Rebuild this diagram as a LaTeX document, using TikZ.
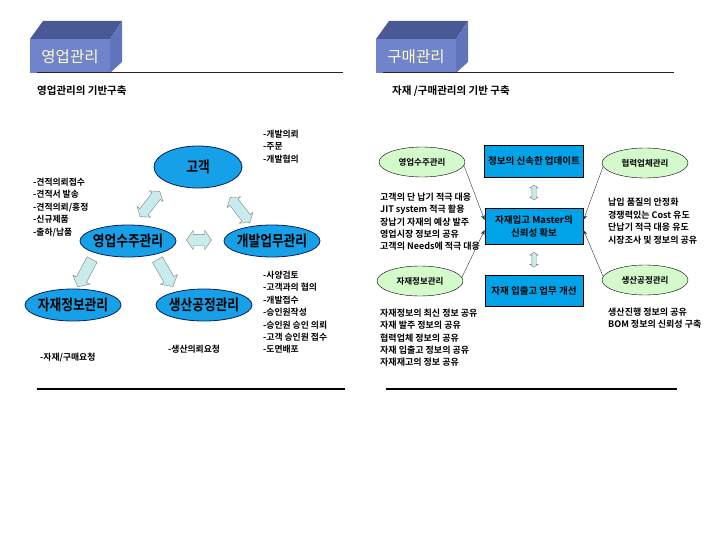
\documentclass[tikz,border=0pt]{standalone}
\usepackage{fontspec}
\setmainfont{Noto Sans CJK KR}[BoldFont={Noto Sans CJK KR Bold}]
\newfontfamily\ovalfont{Noto Sans CJK KR Bold}[FakeStretch=0.85]
\usepackage{xcolor}
\usetikzlibrary{arrows.meta,shapes.geometric,shapes.arrows,calc}

\definecolor{ovalblue}{RGB}{22,160,232}
\definecolor{ovalline}{RGB}{10,30,90}
\definecolor{ovalgreen}{RGB}{212,250,204}
\definecolor{boxblue}{RGB}{0,162,232}
\definecolor{fatfill}{RGB}{200,236,236}
\definecolor{titlefront}{RGB}{112,132,204}
\definecolor{titletop}{RGB}{74,88,150}
\definecolor{titleside}{RGB}{96,116,188}
\definecolor{titletext}{RGB}{255,255,200}

\begin{document}
\begin{tikzpicture}[x=1pt,y=-1pt,
  oval/.style={ellipse,draw=ovalline,thick,fill=ovalblue,inner xsep=-6pt,inner ysep=-1pt,
    minimum width=96pt,minimum height=32pt,font=\fontsize{15}{15}\ovalfont},
  greenoval/.style={ellipse,draw=black,fill=ovalgreen,inner xsep=-6pt,inner ysep=-2pt,
    minimum width=86pt,minimum height=30pt,font=\fontsize{8.5}{8.5}\selectfont\bfseries},
  bluebox/.style={draw=black,thick,fill=boxblue,minimum width=98pt,minimum height=32pt,
    align=center,font=\fontsize{9.5}{13}\selectfont\bfseries},
  fatdbl/.style={double arrow,draw=gray,fill=fatfill,inner sep=5pt,minimum width=17pt,
    minimum height=32pt,double arrow head extend=3.5pt,double arrow tip angle=110},
  fatone/.style={single arrow,draw=gray,fill=fatfill,inner sep=5.5pt,minimum width=19pt,
    minimum height=31pt,single arrow head extend=4pt,single arrow tip angle=100},
  thindbl/.style={double arrow,draw=gray,fill=fatfill,inner sep=2pt,minimum width=8pt,
    minimum height=15pt,double arrow head extend=2pt,double arrow tip angle=110},
  note/.style={anchor=north west,inner sep=0pt,align=left,
    font=\fontsize{8.8}{12.4}\selectfont\bfseries},
  rnote/.style={note,font=\fontsize{9}{12.3}\selectfont\bfseries},
  subtitle/.style={anchor=west,inner sep=0pt,font=\fontsize{10.5}{10.5}\selectfont\bfseries},
  titletxt/.style={text=titletext,font=\fontsize{15.5}{15.5}\selectfont},
  link/.style={-{Stealth[length=5pt,width=4pt]},thin,draw=black!80}]
\useasboundingbox (0,0) rectangle (720,540);
% title blocks
\fill[titletop] (30,39) -- (43,21) -- (122,21) -- (110,39) -- cycle;
\fill[titleside] (110,39) -- (122,21) -- (122,62) -- (110,73) -- cycle;
\fill[titlefront] (30,39) rectangle (110,73);
\node[titletxt] (title1) at (70,57) {영업관리};
\scope[xshift=346pt]
\fill[titletop] (30,39) -- (43,21) -- (122,21) -- (110,39) -- cycle;
\fill[titleside] (110,39) -- (122,21) -- (122,62) -- (110,73) -- cycle;
\fill[titlefront] (30,39) rectangle (110,73);
\node[titletxt] (title2) at (70,57) {구매관리};
\endscope
\draw[line width=0.9pt,black!85] (37,72) -- (343,72);
\draw[line width=0.9pt,black!85] (383,72) -- (674,72);
\draw[line width=1.4pt] (37,389) -- (345,389);
\draw[line width=1.4pt] (386,389) -- (677,389);
\node[subtitle] (sub1) at (37,91) {영업관리의 기반구축};
\node[subtitle] (sub2) at (392,91) {자재 /구매관리의 기반 구축};

% sales side
\node[oval,minimum width=88pt,minimum height=42pt] (gogaek) at (198,167) {고객};
\node[oval] (suju) at (128,241) {영업수주관리};
\node[oval] (gaebal) at (272,241) {개발업무관리};
\node[oval] (jajae) at (73,305) {자재정보관리};
\node[oval] (saengsan) at (204,305) {생산공정관리};
\node[fatdbl,rotate=52] (gs) at (150,204) {};
\node[fatdbl,rotate=-52] (gg) at (240,210) {};
\node[fatdbl,inner sep=5.5pt,minimum width=19pt,minimum height=25pt,double arrow head extend=4pt] (sg) at (199,240) {};
\node[fatone,rotate=-118] (sj) at (86,271) {};
\node[fatone,rotate=-60] (ss) at (164,271) {};
\node[note] (n1) at (33,177.9) {-견적의뢰접수\\-견적서 발송\\-견적의뢰/흥정\\-신규제품\\-출하/납품};
\node[note] (n2) at (263,129.9) {-개발의뢰\\-주문\\-개발협의};
\node[note] (n3) at (263,270.9) {-사양검토\\-고객과의 협의\\-개발접수\\-승인원작성\\-승인원 승인 의뢰\\-고객 승인원 접수\\-도면배포};
\node[note] (n4) at (40,352.9) {-자재/구매요청};
\node[note] (n5) at (168,344.9) {-생산의뢰요청};

% purchase side
\node[greenoval] (rsuju) at (422,162) {영업수주관리};
\node[greenoval] (rjajae) at (420,281) {자재정보관리};
\node[greenoval] (hyeop) at (645,163) {협력업체관리};
\node[greenoval] (rsaeng) at (645,280) {생산공정관리};
\node[bluebox] (update) at (534,161) {정보의 신속한 업데이트};
\node[bluebox,minimum height=36pt] (master) at (534,226) {자재입고 Master의\\신뢰성 확보};
\node[bluebox,minimum height=31pt] (inout) at (534,291) {자재 입출고 업무 개선};
\node[thindbl,rotate=90] (um) at ($(update.south)!.5!(master.north)$) {};
\node[thindbl,rotate=90] (mi) at ($(master.south)!.5!(inout.north)$) {};
\draw[link] (rsuju.-5) -- ($(master.west)+(0,-6)$);
\draw[link] (rjajae.5) -- ($(master.west)+(0,4)$);
\draw[link] (hyeop.185) -- ($(master.east)+(0,-6)$);
\draw[link] (rsaeng.175) -- ($(master.east)+(0,4)$);
\node[rnote] (r1) at (380,192.8) {고객의 단 납기 적극 대응\\JIT system 적극 활용\\장납기 자재의 예상 발주\\영업시장 정보의 공유\\고객의 Needs에 적극 대응};
\node[rnote] (r2) at (380,308.8) {자재정보의 최신 정보 공유\\자재 발주 정보의 공유\\협력업체 정보의 공유\\자재 입출고 정보의 공유\\자재재고의 정보 공유};
\node[rnote,font=\fontsize{9}{12.7}\selectfont\bfseries] (r3) at (608,197.8) {납입 품질의 안정화\\경쟁력있는 Cost 유도\\단납기 적극 대응 유도\\시장조사 및 정보의 공유};
\node[rnote] (r4) at (608,307.8) {생산진행 정보의 공유\\BOM 정보의 신뢰성 구축};
\end{tikzpicture}
\end{document}
